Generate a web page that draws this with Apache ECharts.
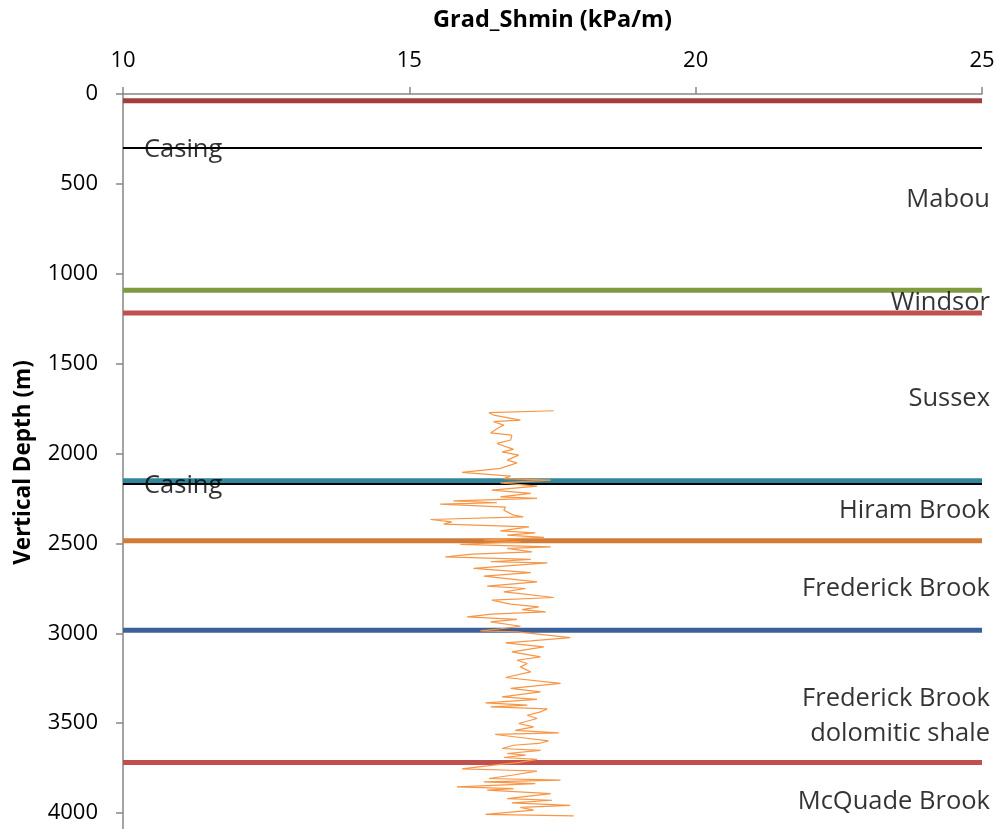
<!DOCTYPE html>
<html>
<head>
<meta charset="utf-8">
<title>Grad_Shmin vs Vertical Depth</title>
<script src="https://cdn.jsdelivr.net/npm/echarts@6/dist/echarts.min.js"></script>
<style>
  html, body { margin: 0; padding: 0; background: #ffffff; }
  #chart { width: 996px; height: 829px; }
</style>
</head>
<body>
<div id="chart"></div>
<script>
// Minimum horizontal stress gradient log (kPa/m) against vertical depth (m)
const logDepth = [
  1762, 1773, 1786, 1814, 1823, 1842, 1851, 1885, 1898, 1925, 1944, 1977, 1991, 2009,
  2037, 2052, 2083, 2105, 2126, 2140, 2148, 2163, 2181, 2204, 2222, 2241, 2250, 2263,
  2274, 2282, 2298, 2315, 2343, 2352, 2367, 2380, 2393, 2408, 2430, 2441, 2454, 2467,
  2482, 2491, 2506, 2519, 2528, 2547, 2560, 2575, 2589, 2602, 2608, 2639, 2663, 2682,
  2714, 2738, 2751, 2770, 2779, 2801, 2816, 2838, 2853, 2868, 2881, 2894, 2909, 2923,
  2937, 2961, 2975, 2987, 2992, 3024, 3042, 3053, 3076, 3104, 3131, 3150, 3168, 3187,
  3215, 3246, 3279, 3307, 3326, 3354, 3368, 3387, 3400, 3410, 3421, 3437, 3456, 3474,
  3502, 3521, 3540, 3554, 3563, 3580, 3599, 3613, 3623, 3641, 3651, 3669, 3678, 3691,
  3702, 3720, 3734, 3754, 3762, 3767, 3790, 3808, 3817, 3827, 3836, 3855, 3864, 3873,
  3892, 3920, 3929, 3944, 3957, 3969, 3984, 4007, 4016
];
const logShmin = [
  17.52, 16.39, 16.47, 16.94, 16.47, 16.65, 16.59, 16.42, 16.79, 16.77, 16.53, 16.82, 16.62, 16.91,
  16.71, 16.88, 16.59, 15.92, 16.77, 16.65, 17.47, 16.59, 17.23, 16.44, 17.12, 16.59, 17.23, 15.77,
  16.53, 15.54, 16.68, 16.65, 16.82, 16.99, 15.37, 15.74, 15.60, 17.09, 16.59, 17.20, 16.71, 17.35,
  16.30, 16.94, 15.89, 17.47, 16.71, 17.14, 16.10, 15.63, 17.12, 16.42, 17.41, 16.12, 17.12, 16.30,
  17.23, 16.36, 17.03, 16.65, 16.94, 17.52, 16.44, 16.77, 17.26, 16.97, 17.38, 16.44, 16.01, 16.88,
  16.42, 16.94, 16.60, 16.24, 16.88, 17.81, 17.12, 16.68, 17.35, 16.79, 17.29, 16.88, 17.06, 16.94,
  17.12, 16.68, 17.64, 16.77, 17.29, 16.62, 17.23, 16.33, 17.06, 16.42, 17.41, 17.29, 17.06, 17.23,
  16.91, 17.17, 16.85, 17.61, 16.50, 16.94, 17.43, 17.26, 16.82, 16.62, 17.29, 16.71, 17.03, 16.65,
  17.23, 16.90, 16.47, 15.92, 16.77, 17.23, 16.79, 16.39, 17.64, 16.30, 17.20, 15.83, 16.82, 16.36,
  17.47, 16.71, 17.49, 16.79, 17.81, 16.94, 17.17, 16.33, 17.87
];

// Formation tops (m) and their line colours
const topDepths = [37, 1092, 1219, 2152, 2486, 2983, 3719];
const topColors = ['#A23F3D', '#7F9B40', '#C0504D', '#31859C', '#D07B37', '#3C6098', '#C0504D'];

// Casing points (m)
const casingDepths = [300, 2170];
const casingText = 'Casing';

// Formation names and the depth each name is written at
const formationNames = ['Mabou', 'Windsor', 'Sussex', 'Hiram Brook', 'Frederick Brook',
  'Frederick Brook\ndolomitic shale', 'McQuade Brook'];
const formationLabelDepths = [584, 1156, 1690, 2310, 2749, 3456, 3933];

// Axis settings
const xMin = 10, xMax = 25, xStep = 5;
const yMin = 0, yMax = 4100, yStep = 500;
const xTitle = 'Grad_Shmin (kPa/m)';
const yTitle = 'Vertical Depth (m)';

const FONT = '"Open Sans", "Noto Sans", sans-serif';
const TEXT_COLOR = '#000000';

const chart = echarts.init(document.getElementById('chart'), null, { renderer: 'canvas' });

const series = [];

// Formation top lines spanning the full x range
topDepths.forEach((d, i) => {
  series.push({
    type: 'line',
    data: [[xMin, d], [xMax, d]],
    showSymbol: false,
    silent: true,
    lineStyle: { color: topColors[i], width: 5 },
    z: 2
  });
});

// Casing lines
casingDepths.forEach((d) => {
  series.push({
    type: 'line',
    data: [[xMin, d], [xMax, d]],
    showSymbol: false,
    silent: true,
    lineStyle: { color: '#000000', width: 2 },
    z: 3
  });
});

// Casing labels
series.push({
  type: 'scatter',
  symbolSize: 0,
  silent: true,
  data: casingDepths.map(d => [xMin, d]),
  label: {
    show: true,
    formatter: () => casingText,
    position: 'inside',
    align: 'left',
    verticalAlign: 'middle',
    offset: [21, 2],
    fontFamily: FONT,
    fontSize: 25.5,
    fontWeight: 500,
    color: TEXT_COLOR
  },
  z: 4
});

// Formation name labels along the right edge
series.push({
  type: 'scatter',
  symbolSize: 0,
  silent: true,
  data: formationLabelDepths.map((d, i) => ({ value: [xMax, d], name: formationNames[i] })),
  label: {
    show: true,
    formatter: p => p.name,
    position: 'inside',
    align: 'right',
    verticalAlign: 'middle',
    offset: [8, 1],
    fontFamily: FONT,
    fontSize: 25.5,
    fontWeight: 500,
    lineHeight: 35,
    color: TEXT_COLOR
  },
  z: 4
});

// Stress gradient log
series.push({
  type: 'line',
  data: logDepth.map((d, i) => [logShmin[i], d]),
  showSymbol: false,
  silent: true,
  lineStyle: { color: '#F79646', width: 1.2 },
  z: 5
});

chart.setOption({
  backgroundColor: '#ffffff',
  animation: false,
  grid: {
    left: 123, top: 94, width: 859, height: 737,
    containLabel: false,
    outerBoundsMode: 'none'
  },
  xAxis: {
    type: 'value',
    position: 'top',
    min: xMin,
    max: xMax,
    interval: xStep,
    name: xTitle,
    nameLocation: 'middle',
    nameGap: 62,
    nameTextStyle: { fontFamily: FONT, fontSize: 23.5, fontWeight: 'bold', color: TEXT_COLOR },
    axisLine: { show: true, lineStyle: { color: '#868686', width: 1.5 } },
    axisTick: { show: true, inside: false, length: 7, lineStyle: { color: '#868686', width: 1.5 } },
    axisLabel: { fontFamily: FONT, fontSize: 22, fontWeight: 500, color: TEXT_COLOR, margin: 22 },
    splitLine: { show: false }
  },
  yAxis: {
    type: 'value',
    inverse: true,
    min: yMin,
    max: yMax,
    interval: yStep,
    name: yTitle,
    nameLocation: 'middle',
    nameGap: 88,
    nameRotate: 90,
    nameTextStyle: { fontFamily: FONT, fontSize: 22.5, fontWeight: 'bold', color: TEXT_COLOR },
    axisLine: { show: true, lineStyle: { color: '#868686', width: 1.5 } },
    axisTick: { show: true, inside: false, length: 7, lineStyle: { color: '#868686', width: 1.5 } },
    axisLabel: {
      fontFamily: FONT, fontSize: 22, fontWeight: 500, color: TEXT_COLOR, margin: 25,
      showMaxLabel: false,
      formatter: v => String(v)
    },
    splitLine: { show: false }
  },
  series: series
});
</script>
</body>
</html>
